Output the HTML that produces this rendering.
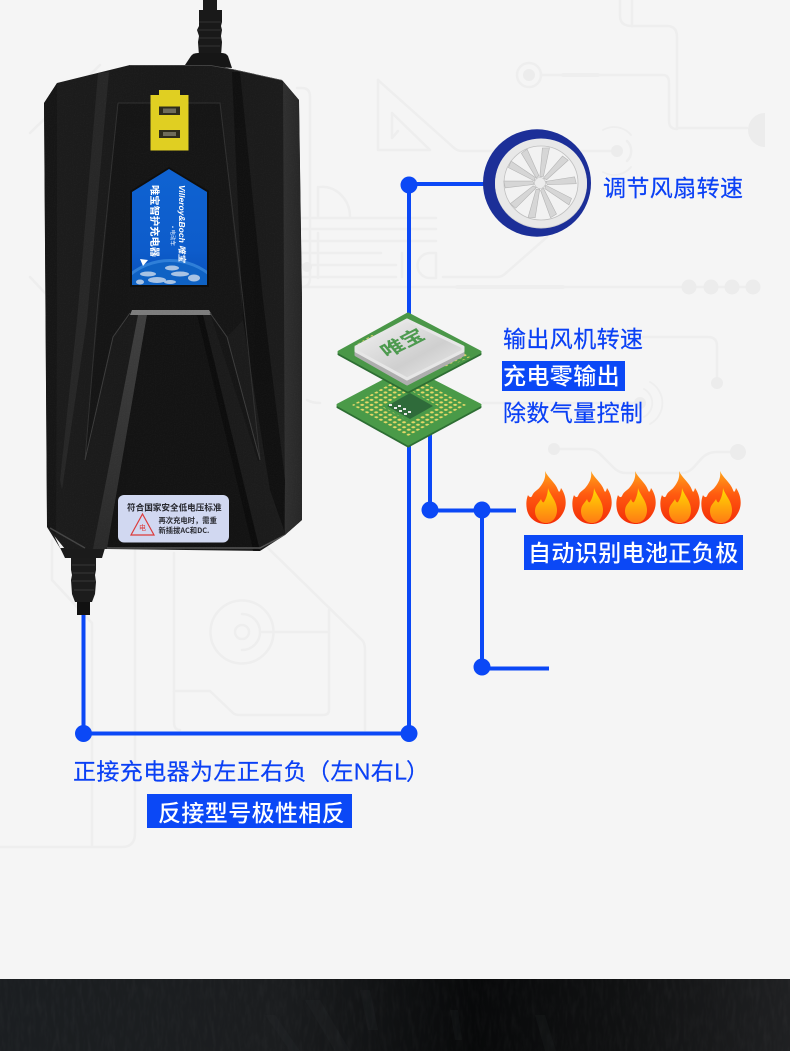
<!DOCTYPE html>
<html lang="zh"><head><meta charset="utf-8"><title>智能风扇</title>
<style>html,body{margin:0;padding:0;background:#f5f5f5}svg{display:block}
text{font-family:"Liberation Sans","Noto Sans CJK SC",sans-serif}</style></head><body>
<svg xmlns="http://www.w3.org/2000/svg" width="790" height="1051" viewBox="0 0 790 1051">
<defs>
<linearGradient id="floor" x1="0" x2="1" y1="0" y2="0"><stop offset="0" stop-color="#1b1e21"/><stop offset=".35" stop-color="#1b1d1f"/><stop offset=".6" stop-color="#08090a"/><stop offset=".8" stop-color="#111213"/><stop offset="1" stop-color="#1f2022"/></linearGradient>
<linearGradient id="body" x1="0" x2="1" y1="0" y2="0"><stop offset="0" stop-color="#1c1c1c"/><stop offset=".5" stop-color="#191919"/><stop offset="1" stop-color="#1c1c1c"/></linearGradient>
<linearGradient id="side" x1="0" x2="1" y1="0" y2="0"><stop offset="0" stop-color="#303030"/><stop offset="1" stop-color="#262626"/></linearGradient>
<linearGradient id="wedge" x1="0" x2="0" y1="0" y2="1"><stop offset="0" stop-color="#3f3f3f"/><stop offset="1" stop-color="#2a2a2a"/></linearGradient>
<linearGradient id="blue" x1="0" x2="0" y1="0" y2="1"><stop offset="0" stop-color="#0f63d2"/><stop offset=".7" stop-color="#0d5ccb"/><stop offset="1" stop-color="#0a4fb8"/></linearGradient>
<linearGradient id="fl1" x1="0" x2="0" y1="0" y2="1"><stop offset="0" stop-color="#ffa41a"/><stop offset=".45" stop-color="#ff5a10"/><stop offset="1" stop-color="#f32c08"/></linearGradient>
<linearGradient id="fl2" x1="0" x2="0" y1="0" y2="1"><stop offset="0" stop-color="#ffdc00"/><stop offset="1" stop-color="#ff7a14"/></linearGradient>
<linearGradient id="ihs" x1="0" x2="1" y1="0" y2="1"><stop offset="0" stop-color="#f3f3f3"/><stop offset=".6" stop-color="#cfcfcf"/><stop offset="1" stop-color="#eeeeee"/></linearGradient>
<filter id="noise" x="0" y="0" width="100%" height="100%"><feTurbulence type="fractalNoise" baseFrequency=".9" numOctaves="2" seed="3"/><feColorMatrix values="0 0 0 0 1  0 0 0 0 1  0 0 0 0 1  .5 .5 0 0 -.38"/></filter>
<filter id="bark" x="0" y="0" width="100%" height="100%"><feTurbulence type="fractalNoise" baseFrequency=".25 .06" numOctaves="3" seed="8"/><feColorMatrix values="0 0 0 0 1  0 0 0 0 1  0 0 0 0 1  .7 .7 0 0 -.58"/></filter>
<clipPath id="bodyclip"><polygon points="130,65 210,65 232,69 282,80 299,100 302,300 302,520 285,535 260,551 107,549 65,549 47,527 44,103 57,83"/></clipPath>
<clipPath id="labelclip"><polygon points="169,169 207,192 207,285 132,285 132,192"/></clipPath>
<pattern id="pads" width="5.4" height="5.4" patternUnits="userSpaceOnUse" patternTransform="matrix(.86,.46,-.86,.46,0,0)"><circle cx="2.7" cy="2.7" r="1.55" fill="#e6d968"/></pattern>
<path id="flame" d="M-1,-27 C2,-20 9,-16 12,-8 C13,-5 14,-6 15,-10 C20,-3 21,6 18,13 C14,22 7,26 0,26 C-9,26 -17,21 -19,12 C-20,7 -20,2 -18,-3 C-17,-1 -15,0 -14,-2 C-12,-7 -9,-7 -6,-11 C-2,-16 0,-21 -1,-27Z"/>
<path id="flamein" d="M2,-10 C4,-3 11,3 11,12 C11,20 6,25 0,25 C-6,25 -11,20 -11,13 C-11,7 -7,5 -5,1 C-4,4 -3,5 -2,4 C0,1 2,-5 2,-10Z"/>
<polygon id="blade" points="-1,-6 2.5,-7 4.5,-36 -2.5,-35"/>
</defs>

<rect width="790" height="1051" fill="#f5f5f5"/>

<!-- background circuit traces -->
<g fill="none" stroke="#eeeeee" stroke-width="2.5" stroke-linecap="round" stroke-linejoin="round">
<path d="M620,0V16Q620,26 632,26H667Q677,26 677,37V128H747"/><path d="M632,0V26"/>
<circle cx="529" cy="75" r="12"/><path d="M541,75H663Q669,75 669,83V121Q669,129 677,129"/>
<path d="M563,75H598" stroke-width="4"/>
<path d="M378,80V150H430L392,113V138L398,131"/><path d="M378,80L453,147Q457,151 462,151H613"/>
<path d="M603,130A22,22 0 0 1 631,135M631,167A22,22 0 0 1 603,172" stroke-width="1.8"/><path d="M627,141A14,14 0 0 1 627,161"/>
<path d="M350,217A28,30 0 0 0 320,187"/>
<path d="M290,218H436M290,229H436M290,241H436M290,253H381M290,265H396M290,277H396"/>
<path d="M402,253V277M436,253V278H430A12,12 0 0 1 430,253H436"/>
<path d="M443,277H497Q502,277 506,273L547,237"/>
<path d="M300,287H747"/><path d="M457,287H563" stroke-width="4"/>
<path d="M643,337H708Q717,337 717,346V383"/>
<path d="M483,403H640"/><path d="M644,389A16,16 0 0 1 644,417M650,382A24,24 0 0 1 650,424" stroke-width="1.8"/>
<path d="M554,449H588Q596,449 602,456L614,468Q619,473 626,473H682Q688,473 693,468L702,458Q708,452 716,452H738" stroke-width="2.6"/>
<path d="M30,133L100,65M30,277L45,293"/>
<path d="M297,88H302Q310,88 310,97V278Q310,287 302,287"/><path d="M318,187V217M318,233V278" />
<path d="M307,400Q312,403 320,403"/>
<path d="M52,540V580L92,623V847"/><path d="M135,550V833Q135,847 122,847H0"/>
<path d="M174,553V722Q174,730 180,730"/><path d="M174,691H210L233,713Q235,715 240,715H323Q329,715 329,710V610"/>
<path d="M267,547L362,640Q365,643 365,650V730"/>
<circle cx="242" cy="632" r="31.5"/><circle cx="242" cy="632" r="7"/>
<path d="M242,614A18,18 0 0 1 260,632M260,632A18,18 0 0 1 242,650"/>
<path d="M262,632H329"/>
</g>
<g fill="#ececec">
<circle cx="529" cy="75" r="6"/><circle cx="617" cy="151" r="6"/>
<path d="M765,113A17,17 0 0 0 765,147Z"/>
<circle cx="689" cy="287" r="7.5"/><circle cx="711" cy="287" r="7.5"/><circle cx="732" cy="287" r="7.5"/><circle cx="753" cy="287" r="7.5"/>
<circle cx="717" cy="383" r="6"/><circle cx="640" cy="403" r="6"/>
<circle cx="554" cy="449" r="6"/><circle cx="738" cy="452" r="8"/>
<circle cx="307" cy="267" r="5"/>
</g>

<!-- bottom dark band -->
<rect x="0" y="979" width="790" height="72" fill="url(#floor)"/>
<rect x="0" y="979" width="790" height="72" filter="url(#bark)" opacity=".05"/>
<g fill="#34383b" opacity=".14">
<polygon points="305,1000 320,1000 350,1051 335,1051"/><polygon points="265,1015 275,1015 300,1051 290,1051"/><polygon points="360,990 370,990 378,1030 368,1030"/><polygon points="450,1010 458,1010 462,1040 455,1040"/><polygon points="535,1015 545,1015 556,1051 545,1051"/>
</g>

<!-- connectors -->
<g fill="none" stroke="#0b48f6" stroke-width="4">
<path d="M409,185V318"/><path d="M409,184H486"/>
<path d="M409,440V733"/><path d="M430,430V510"/>
<path d="M430,510.5H516"/><path d="M482,510V668"/><path d="M482,668.5H549"/>
<path d="M83.5,612V733.5H409"/>
</g>
<g fill="#0b48f6">
<circle cx="409" cy="185" r="8.5"/><circle cx="430" cy="510" r="8.5"/><circle cx="482" cy="510" r="8.5"/><circle cx="482" cy="667" r="8.5"/>
<circle cx="83.5" cy="733.5" r="8.5"/><circle cx="409" cy="733.5" r="8.5"/>
</g>

<!-- top cord -->
<rect x="203" y="0" width="14" height="14" fill="#1c1c1c"/>
<path d="M199,10H222V22L221,26 222,30 221,36 222,42 221,56 H199L198,42 199,36 197,30 199,26Z" fill="#191919"/>
<g stroke="#343434" stroke-width="1"><path d="M199,22H221M198,30H221M199,38H221M199,46H220"/></g>
<path d="M185,65L191,56Q193,53 198,53H222Q226,53 228,56L232,68Z" fill="#161616"/>

<!-- bottom cord -->
<rect x="77" y="596" width="13" height="19" fill="#111"/>
<path d="M71,556H96V570L95,575 96,582 95,594 92,602H75L72,594 71,580 72,575 71,570Z" fill="#1c1c1c"/>
<g stroke="#383838" stroke-width="1"><path d="M72,565H95M73,573H94M72,581H95M74,590H94"/></g>
<path d="M47,527L53,533L65,558H102L105,548H60Z" fill="#1b1b1b"/>

<!-- charger body -->
<polygon points="130,65 210,65 232,69 282,80 299,100 302,300 302,520 285,535 260,551 107,549 65,549 47,527 44,103 57,83" fill="url(#body)"/>
<g clip-path="url(#bodyclip)">
<polygon points="283,78 299,100 302,300 302,520 285,535 284,300" fill="url(#side)"/>
<polygon points="57,83 44,103 47,527 56,535 57,300" fill="#161616"/>
<polygon points="98,73 109,72 87,320 62,490 60,480 77,320" fill="#272727"/>
<polygon points="232,72 240,72 263,300 285,480 284,530 270,490 243,320" fill="#101010"/>
<polygon points="118,103 220,103 243,320 227,337 260,460 258,461 210,313 132,313 113,337 86,460 84,460 98,320" fill="#151515"/>
<path d="M118,103H220L243,300L260,460M118,103L98,300L85,460" fill="none" stroke="#303030" stroke-width="1"/>
<polygon points="132,310 209,310 212,315 130,315" fill="#7c7c7c"/>
<polygon points="138,315 147,315 107,549 93,549" fill="url(#wedge)"/>
<polygon points="197,315 203,315 260,551 253,551" fill="#0c0c0c"/>
<polygon points="147,315 197,315 253,549 107,549" fill="#131313"/>
<path d="M130,313L113,337L85,460M210,313L227,337L260,460" fill="none" stroke="#3c3c3c" stroke-width="1"/>
<path d="M50,528L85,548" fill="none" stroke="#444" stroke-width="1.5"/>
<path d="M107,548H260L285,535" fill="none" stroke="#555" stroke-width="1.5"/>
<path d="M130,65H210L232,69L282,80" fill="none" stroke="#555" stroke-width="1.2"/>
<rect x="40" y="60" width="270" height="500" filter="url(#noise)" opacity=".07"/>
</g>

<!-- yellow tag -->
<path d="M159,90H180V95H188.5V150.5H150.5V95H159Z" fill="#e0cf22"/>
<rect x="159" y="106.5" width="21" height="8.5" fill="#2e2c1c"/><rect x="159" y="130" width="21" height="8" fill="#2e2c1c"/>
<rect x="163" y="108.5" width="13" height="4.5" fill="#6f6c5a"/><rect x="163" y="132" width="13" height="4" fill="#6f6c5a"/>

<!-- blue label -->
<polygon points="169,167 209,191 209,287 130,287 130,191" fill="#0e0e0e"/>
<g clip-path="url(#labelclip)">
<rect x="130" y="168" width="80" height="118" fill="url(#blue)"/>
<ellipse cx="170" cy="318" rx="62" ry="59" fill="#2f7fd8"/>
<ellipse cx="170" cy="320" rx="60" ry="58" fill="#0f62c4"/>
<g fill="#cfdcec" opacity=".8">
<ellipse cx="148" cy="274" rx="8" ry="2.5"/><ellipse cx="157" cy="280" rx="9" ry="3"/><ellipse cx="172" cy="268" rx="7" ry="2.5"/><ellipse cx="180" cy="274" rx="9" ry="2.5"/><ellipse cx="194" cy="278" rx="6" ry="3.5"/><ellipse cx="170" cy="282" rx="6" ry="2"/><ellipse cx="140" cy="282" rx="4" ry="2.5"/>
</g>
<path d="M140,259L148,260 143,266Z" fill="#fff"/>
<text transform="translate(151,185) rotate(90)" font-size="10.3" font-weight="700" fill="#fff" style="font-family:'Noto Sans CJK SC',sans-serif">唯宝智护充电器</text>
<text transform="translate(179,185) rotate(90)" font-size="8.5" font-weight="700" font-style="italic" fill="#fff">Villeroy&amp;Boch 唯宝</text>
<text transform="translate(171,226) rotate(90)" font-size="5.5" fill="#e6eefc">• 电动车</text>
</g>

<!-- safety label -->
<rect x="118" y="495" width="111" height="47.5" rx="6" fill="#d1d8f1"/>
<text x="127" y="510.5" font-size="8.6" font-weight="700" fill="#26272e" style="font-family:'Noto Sans CJK SC',sans-serif">符合国家安全低电压标准</text>
<polygon points="142.5,514 154,535 131,535" fill="none" stroke="#dc3b3b" stroke-width="1.2"/>
<text x="142.5" y="530" text-anchor="middle" font-size="7" fill="#dc3b3b" style="font-family:'Noto Sans CJK SC',sans-serif">电</text>
<text x="158.5" y="523" font-size="7.3" font-weight="700" fill="#2b2c33" style="font-family:'Noto Sans CJK SC',sans-serif">再次充电时，需重</text>
<text x="158.5" y="533" font-size="7.3" font-weight="700" fill="#2b2c33" style="font-family:'Noto Sans CJK SC',sans-serif">新插拔AC和DC.</text>

<!-- fan -->
<ellipse cx="537" cy="183" rx="54" ry="53.7" fill="#1c2f98"/>
<ellipse cx="541" cy="184" rx="46" ry="44.5" fill="#d4d4d4"/>
<ellipse cx="541" cy="183" rx="46" ry="44.5" fill="#e8e8e8"/>
<ellipse cx="541" cy="183" rx="37" ry="37" fill="#f2f2f2" stroke="#bfbfbf" stroke-width=".8"/>
<g fill="#d6d6d6" stroke="#b5b5b5" stroke-width=".6" transform="translate(540,183)">
<use href="#blade" transform="rotate(-28)"/><use href="#blade" transform="rotate(8)"/><use href="#blade" transform="rotate(44)"/><use href="#blade" transform="rotate(84)"/><use href="#blade" transform="rotate(120)"/><use href="#blade" transform="rotate(156)"/><use href="#blade" transform="rotate(192)"/><use href="#blade" transform="rotate(228)"/><use href="#blade" transform="rotate(266)"/><use href="#blade" transform="rotate(300)"/>
</g>
<circle cx="540" cy="183" r="5.5" fill="#ececec" stroke="#c4c4c4" stroke-width=".6"/>

<!-- CPU bottom -->
<polygon points="408,370 480,407 408,446 338,407" fill="#2d6e33" stroke="#2d6e33" stroke-width="3" stroke-linejoin="round"/>
<polygon points="408,368 480,405 408,444 338,405" fill="#4a9a48" stroke="#4a9a48" stroke-width="3" stroke-linejoin="round"/>
<polygon points="408,374 466,405 408,436 352,405" fill="url(#pads)"/>
<polygon points="410,390 438,406 410,422 382,406" fill="#4a9a48"/>
<polygon points="410,393 433,406 410,419 387,406" fill="#2f6b3a"/>
<g fill="#e8e8e8"><rect x="389" y="404" width="3" height="2"/><rect x="394" y="407" width="3" height="2"/><rect x="399" y="410" width="3" height="2"/><rect x="404" y="413" width="3" height="2"/><rect x="398" y="405" width="3" height="2"/><rect x="403" y="408" width="3" height="2"/><rect x="408" y="411" width="3" height="2"/></g>
<!-- CPU top -->
<polygon points="408,316 480,354 408,392 339,354" fill="#2d6e33" stroke="#2d6e33" stroke-width="3" stroke-linejoin="round"/>
<polygon points="408,314 480,352 408,390 339,352" fill="#4a9748" stroke="#4a9748" stroke-width="3" stroke-linejoin="round"/>
<polygon points="372,335 354,346 360,349 378,338" fill="url(#pads)"/>
<polygon points="446,368 470,357 466,353 440,364" fill="url(#pads)"/>
<polygon points="407,322 463,350 463,355 407,384 356,355 356,350" fill="#aeaeae" stroke="#aeaeae" stroke-width="3" stroke-linejoin="round"/>
<polygon points="407,320 463,347 463,351 407,379 356,351 356,347" fill="url(#ihs)" stroke="#e6e6e6" stroke-width="3" stroke-linejoin="round"/>
<text transform="matrix(.86,-.44,.52,.62,387,358)" font-size="23" font-weight="700" fill="#4d9a4f" style="font-family:'Noto Sans CJK SC',sans-serif">唯宝</text>

<!-- flames -->
<g id="flames">
<g transform="translate(546,498)"><use href="#flame" fill="url(#fl1)"/><use href="#flamein" fill="url(#fl2)"/></g>
<g transform="translate(592,498)"><use href="#flame" fill="url(#fl1)"/><use href="#flamein" fill="url(#fl2)"/></g>
<g transform="translate(636,498)"><use href="#flame" fill="url(#fl1)"/><use href="#flamein" fill="url(#fl2)"/></g>
<g transform="translate(680,498)"><use href="#flame" fill="url(#fl1)"/><use href="#flamein" fill="url(#fl2)"/></g>
<g transform="translate(721,498)"><use href="#flame" fill="url(#fl1)"/><use href="#flamein" fill="url(#fl2)"/></g>
</g>

<!-- labels -->
<rect x="502" y="361" width="123" height="30" fill="#0b48f6"/>
<rect x="524" y="535" width="219" height="35" fill="#0b48f6"/>
<rect x="147" y="794" width="205" height="34" fill="#0b48f6"/>
<g font-size="23" fill="#0a40f5" letter-spacing=".4" stroke="#0a40f5" stroke-width=".2">
<text x="603" y="196">调节风扇转速</text>
<text x="503" y="347">输出风机转速</text>
<text x="503" y="421">除数气量控制</text>
<text x="73" y="779.5">正接充电器为左正右负（左N右L</text>
<text x="406" y="779.5">）</text>
</g>
<g font-size="23" fill="#fff" letter-spacing=".4" font-weight="500">
<text x="503" y="384">充电零输出</text>
<text x="528" y="561">自动识别电池正负极</text>
<text x="158" y="821">反接型号极性相反</text>
</g>
</svg>
</body></html>
